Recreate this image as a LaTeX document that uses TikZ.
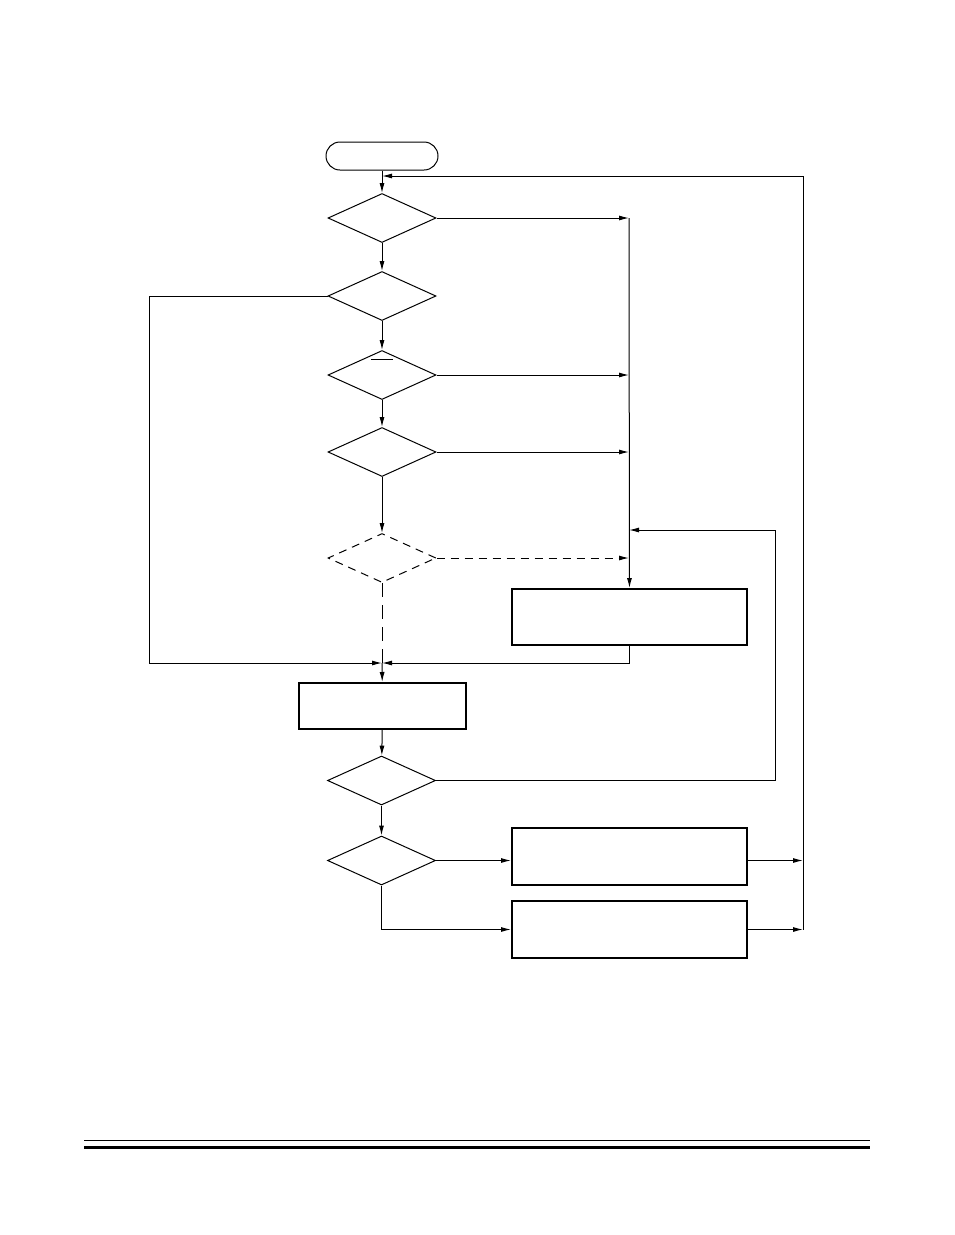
\documentclass[tikz,border=0pt]{standalone}
\usepackage{tikz}
\usetikzlibrary{arrows.meta,positioning,shapes.geometric,shapes.misc}

\begin{document}
\begin{tikzpicture}[
    x=1pt, y=-1pt,
    >={Latex[length=10pt,width=5pt]},
    line width=1pt,
    terminal/.style={
		rounded rectangle,
		draw=black,
		minimum width=112pt,
		minimum height=28pt,
		inner sep=0pt
	},
    test/.style={
		diamond,
		draw=black,
		minimum width=108pt,
		minimum height=49pt,
		inner sep=0pt
	},
    guess/.style={
		test,
		dashed,
		dash pattern=on 8pt off 6pt
	},
    block/.style={
		rectangle,
		draw=black,
		line width=2pt,
		inner sep=0pt
	}
  ]
  \useasboundingbox (0,0) rectangle (954,1235);
    % first the blocks

  \node [terminal] (start) at (382,156) {};
  \node [test] (test1) at (382,218) {};
  \node [test] (test2) at (382,296) {};
  \node [test] (test3) at (382,375) {};
  \node [test] (test4) at (382,452) {};
  \node [guess] (test5) at (382,558) {};

  \node [block, minimum width=235pt, minimum height=56pt] (proc1) at (629.5,617) {};
  \node [block, minimum width=167pt, minimum height=46pt] (proc2) at (382.5,706) {};

  \node [test] (test6) at (381.5,780.5) {};
  \node [test] (test7) at (381.5,860.5) {};

  \node [block, minimum width=235pt, minimum height=57pt] (out1) at (629.5,856.5) {};
  \node [block, minimum width=235pt, minimum height=57pt] (out2) at (629.5,929.5) {};

  % overline left in the third test
  \draw [line width=0.9pt] (371,359) -- (393,359);

  % the joints
  \coordinate (join) at (382,663);
  \coordinate (bus) at (629,218);
  \coordinate (loop) at (775,530);
  \coordinate (railtop) at (803,176);
  \coordinate (railbot) at (803,929.5);

  % then the connectors
  \draw [->] (start) -- (test1);
  \draw [->] (test1) -- (test2);
  \draw [->] (test2) -- (test3);
  \draw [->] (test3) -- (test4);
  \draw [->] (test4) -- (test5);

  \draw [->] (test1.east) -- (bus);
  \draw [->] (bus) -- (proc1);
  \draw [->] (test3.east) -- (test3.east -| bus);
  \draw [->] (test4.east) -- (test4.east -| bus);
  \draw [->, dashed, dash pattern=on 8pt off 6pt] (test5.east) -- (test5.east -| bus);

  \draw [dashed, dash pattern=on 14pt off 8pt] (test5.south) -- (join);
  \draw [->] (test2.west) -- (149,296) |- (join);
  \draw [->] (proc1.south) |- (join);
  \draw [->] (join) -- (proc2);

  \draw [->] (proc2) -- (test6);
  \draw [->] (test6) -- (test7);
  \draw [->] (test6.east) -| (loop) -- (loop -| bus);

  \draw [->] (test7.east) -- (test7.east -| out1.west);
  \draw [->] (test7.south) |- (out2.west);
  \draw [->] (out1.east |- test7.east) -- (test7.east -| railbot);
  \draw [->] (out2.east) -- (railbot);
  \draw [->] (railbot) -- (railtop) -- (railtop -| start);

  % rules at the foot of the page
  \draw [line width=1pt] (84,1140.3) -- (870,1140.3);
  \draw [line width=3pt] (84,1147.5) -- (870,1147.5);

\end{tikzpicture}
\end{document}
